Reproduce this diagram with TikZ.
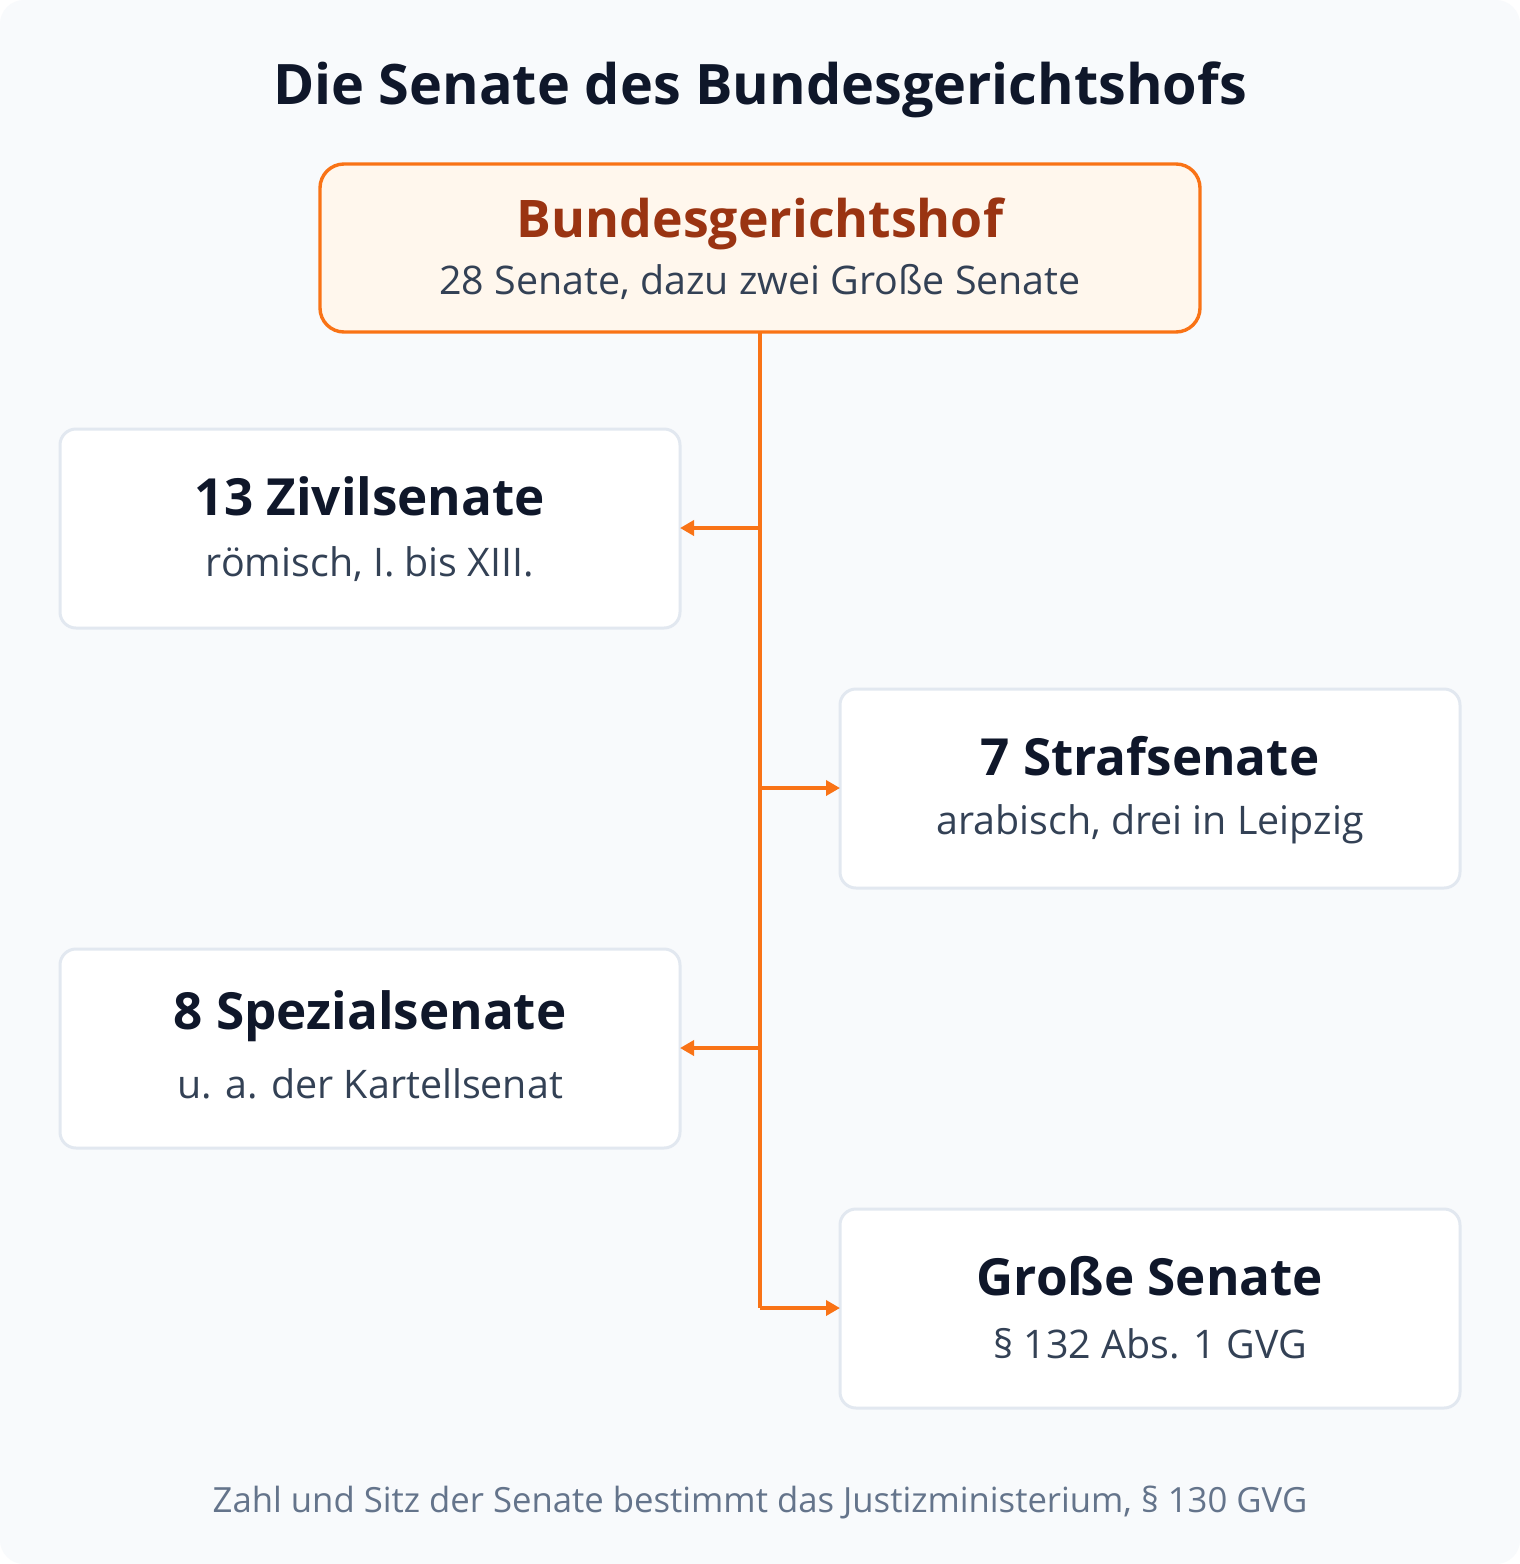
\documentclass[tikz,border=0pt]{standalone}
\usepackage{fontspec}
\setmainfont{Open Sans}
\usetikzlibrary{arrows.meta}
\definecolor{bgc}{HTML}{F8FAFC}
\definecolor{ink}{HTML}{0F172A}
\definecolor{subc}{HTML}{334155}
\definecolor{foot}{HTML}{64748B}
\definecolor{org}{HTML}{F97316}
\definecolor{orgfill}{HTML}{FFF7ED}
\definecolor{orgtext}{HTML}{9A3412}
\definecolor{bord}{HTML}{E2E8F0}
\tikzset{
  px/.style={x=0.5pt,y=-0.5pt},
  card/.style={draw=bord,line width=1.5pt,fill=white,rounded corners=8pt},
  topcard/.style={draw=org,line width=1.7pt,fill=orgfill,rounded corners=12pt},
  ttl/.style={font=\bfseries\fontsize{25.6}{30}\selectfont,text=ink},
  sub/.style={font=\fontsize{19.7}{23}\selectfont,text=subc},
  conn/.style={draw=org,line width=1.9pt},
  arr/.style={conn,-{Triangle[length=7pt,width=7.5pt]}},
}
\begin{document}
\begin{tikzpicture}[px]
\useasboundingbox (0,0) rectangle (1520,1564);
\fill[white] (0,0) rectangle (1520,1564);
\fill[bgc,rounded corners=12pt] (0,0) rectangle (1520,1564);
\node[font=\bfseries\fontsize{27.9}{33}\selectfont,text=ink] (title) at (760,90) {Die Senate des Bundesgerichtshofs};
% top
\path[topcard] (320,164) rectangle (1200,332);
\coordinate (topb) at (760,332);
\node[font=\bfseries\fontsize{25.9}{30}\selectfont,text=orgtext] (bgh) at (760,224) {Bundesgerichtshof};
\node[sub] (bghs) at (760,282) {28 Senate, dazu zwei Große Senate};
% cards
\path[card] (60,429) rectangle (680,628);
\path[card] (840,689) rectangle (1460,888);
\path[card] (60,949) rectangle (680,1148);
\path[card] (840,1209) rectangle (1460,1408);
\coordinate (zR) at (680,528);
\coordinate (sL) at (840,788);
\coordinate (pR) at (680,1048);
\coordinate (gL) at (840,1308);
\node[ttl] (z) at (370,496) {13 Zivilsenate};
\node[sub] (zs) at (370,564) {römisch, I. bis XIII.};
\node[ttl] (s) at (1150,756) {7 Strafsenate};
\node[sub] (ss) at (1150,824) {arabisch, drei in Leipzig};
\node[ttl] (p) at (370,1016) {8 Spezialsenate};
\node[sub] (ps) at (370,1084) {u. a. der Kartellsenat};
\node[ttl] (g) at (1150,1276) {Große Senate};
\node[sub] (gs) at (1150,1344) {§ 132 Abs. 1 GVG};
% connectors
\coordinate (j1) at (760,528);
\coordinate (j2) at (760,788);
\coordinate (j3) at (760,1048);
\coordinate (j4) at (760,1308);
\draw[conn] (topb) -- (j4);
\draw[arr] (j1) -- (zR);
\draw[arr] (j2) -- (sL);
\draw[arr] (j3) -- (pR);
\draw[arr] (j4) -- (gL);
\node[font=\fontsize{17.35}{21}\selectfont,text=foot] (ft) at (760,1502) {Zahl und Sitz der Senate bestimmt das Justizministerium, § 130 GVG};
\end{tikzpicture}
\end{document}
